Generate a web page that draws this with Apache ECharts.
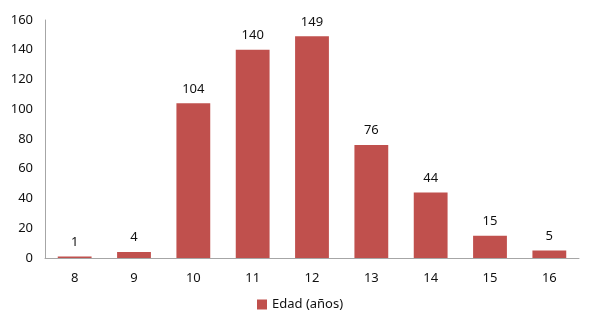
<!DOCTYPE html>
<html><head><meta charset="utf-8">
<script src="https://cdn.jsdelivr.net/npm/echarts@6/dist/echarts.min.js"></script>
<style>html,body{margin:0;padding:0;background:#fff}#c{width:589px;height:326px}</style>
</head><body><div id="c"></div>
<script>
const categories = ['8','9','10','11','12','13','14','15','16'];
const seriesName = 'Edad (años)';
const values = [1, 4, 104, 140, 149, 76, 44, 15, 5];
const yTicks = {min: 0, max: 160, interval: 20};

const chart = echarts.init(document.getElementById('c'), null, {renderer: 'canvas'});
const font = '"Noto Sans", "Open Sans", sans-serif';
chart.setOption({
  animation: false,
  textStyle: {fontFamily: font},
  grid: {left: 45, right: 10, top: 20, bottom: 68, containLabel: false},
  legend: {
    bottom: 10, left: 252, itemWidth: 10, itemHeight: 10, itemGap: 5,
    icon: 'rect',
    textStyle: {fontSize: 13, color: '#111', fontFamily: font},
    data: [seriesName]
  },
  xAxis: {
    type: 'category', data: categories,
    axisLine: {lineStyle: {color: '#a6a6a6', width: 1}},
    axisTick: {show: false},
    axisLabel: {fontSize: 13, color: '#111', margin: 14, fontFamily: font}
  },
  yAxis: {
    type: 'value', min: yTicks.min, max: yTicks.max, interval: yTicks.interval,
    axisLine: {show: true, lineStyle: {color: '#a6a6a6', width: 1}},
    axisTick: {show: false},
    splitLine: {show: false},
    axisLabel: {fontSize: 13, color: '#111', margin: 12, fontFamily: font}
  },
  series: [{
    name: seriesName, type: 'bar', data: values, barWidth: '57%',
    itemStyle: {color: '#C0504D'},
    label: {show: true, position: 'top', distance: 8, fontSize: 13, color: '#111', fontFamily: font}
  }]
});
</script></body></html>
